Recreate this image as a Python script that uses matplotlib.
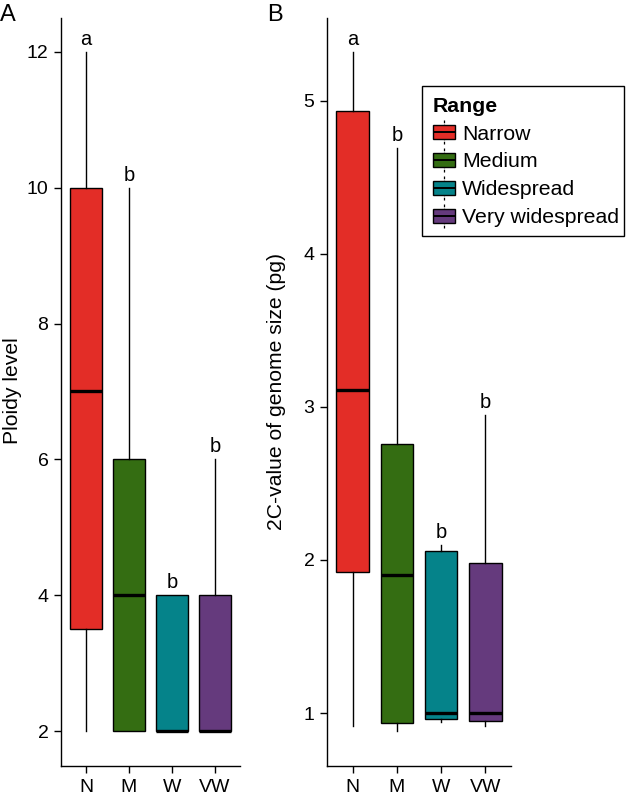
import matplotlib
matplotlib.use("Agg")
import matplotlib.pyplot as plt
from matplotlib.legend_handler import HandlerBase
from matplotlib.lines import Line2D
from matplotlib.patches import Rectangle, Patch

plt.rcParams['font.family'] = ['Liberation Sans', 'DejaVu Sans']

# ---------------- data ----------------
categories = ['N', 'M', 'W', 'VW']
range_labels = ['Narrow', 'Medium', 'Widespread', 'Very widespread']
colors = ['#E32D27', '#346D12', '#05838A', '#653A7D']

ploidy_whislo = [2, 2, 2, 2]
ploidy_q1 = [3.5, 2, 2, 2]
ploidy_med = [7, 4, 2, 2]
ploidy_q3 = [10, 6, 4, 4]
ploidy_whishi = [12, 10, 4, 6]
ploidy_letters = ['a', 'b', 'b', 'b']

genome_whislo = [0.915, 0.88, 0.94, 0.915]
genome_q1 = [1.92, 0.935, 0.96, 0.95]
genome_med = [3.11, 1.90, 1.00, 1.00]
genome_q3 = [4.935, 2.76, 2.06, 1.98]
genome_whishi = [5.32, 4.69, 2.10, 2.95]
genome_letters = ['a', 'b', 'b', 'b']

FS_TICK = 14
FS_LAB = 15.2
FS_LET = 14.5
FS_LEG = 15.3


def make_stats(lo, q1, med, q3, hi):
    return [dict(whislo=a, q1=b, med=c, q3=d, whishi=e, fliers=[])
            for a, b, c, d, e in zip(lo, q1, med, q3, hi)]


def draw_panel(ax, stats, letters, ylim, yticks):
    pos = list(range(1, len(categories) + 1))
    bp = ax.bxp(stats, positions=pos, widths=0.74, patch_artist=True,
                showcaps=False, showfliers=False,
                boxprops=dict(edgecolor='black', linewidth=1.0),
                whiskerprops=dict(color='black', linewidth=1.0),
                medianprops=dict(color='black', linewidth=2.4, solid_capstyle='butt'))
    for patch, c in zip(bp['boxes'], colors):
        patch.set_facecolor(c)
    for x, s, l in zip(pos, stats, letters):
        ax.annotate(l, (x, s['whishi']), xytext=(0, 5), textcoords='offset points',
                    ha='center', va='baseline', fontsize=FS_LET)
    ax.set_xlim(0.42, 4.58)
    ax.set_ylim(*ylim)
    ax.set_yticks(yticks)
    ax.set_yticklabels([str(t) for t in yticks])
    ax.set_xticks(pos)
    ax.set_xticklabels(categories)
    for side in ('top', 'right'):
        ax.spines[side].set_visible(False)
    for side in ('left', 'bottom'):
        ax.spines[side].set_linewidth(1.0)
    ax.tick_params(direction='out', length=5, width=1.0, labelsize=FS_TICK, pad=4)


class BoxHandler(HandlerBase):
    def create_artists(self, legend, orig_handle, xdescent, ydescent,
                       width, height, fontsize, trans):
        x0 = -xdescent
        y0 = -ydescent
        cx = x0 + width / 2
        ext = height * 0.36
        wh = Line2D([cx, cx], [y0 - ext, y0 + height + ext], color='black',
                    lw=0.9, ls=(0, (2.2, 1.2)))
        box = Rectangle((x0, y0), width, height,
                        facecolor=orig_handle.get_facecolor(),
                        edgecolor='black', lw=1.0)
        med = Line2D([x0, x0 + width], [y0 + height / 2] * 2, color='black',
                     lw=1.4, solid_capstyle='butt')
        for a in (wh, box, med):
            a.set_transform(trans)
        return [wh, box, med]


fig = plt.figure(figsize=(6.3, 7.92), dpi=100)
W, H = 630, 792
axA = fig.add_axes([61 / W, 1 - 766 / H, (240 - 61) / W, (766 - 18) / H])
axB = fig.add_axes([327 / W, 1 - 766 / H, (511 - 327) / W, (766 - 18) / H])

draw_panel(axA, make_stats(ploidy_whislo, ploidy_q1, ploidy_med, ploidy_q3, ploidy_whishi),
           ploidy_letters, (1.485, 12.5), [2, 4, 6, 8, 10, 12])
draw_panel(axB, make_stats(genome_whislo, genome_q1, genome_med, genome_q3, genome_whishi),
           genome_letters, (0.654, 5.54), [1, 2, 3, 4, 5])

fig.text(12 / W, 1 - 391 / H, 'Ploidy level', rotation=90, ha='center', va='center', fontsize=FS_LAB)
fig.text(277 / W, 1 - 392 / H, '2C-value of genome size (pg)', rotation=90,
         ha='center', va='center', fontsize=FS_LAB)
fig.text(0 / W, 1 - 21 / H, 'A', ha='left', va='baseline', fontsize=17)
fig.text(267 / W, 1 - 21 / H, 'B', ha='left', va='baseline', fontsize=17)

handles = [Patch(facecolor=c, edgecolor='black') for c in colors]
leg = fig.legend(handles, range_labels, title='Range', loc='upper left',
                 bbox_to_anchor=(422 / W, 1 - 86 / H), bbox_transform=fig.transFigure,
                 handler_map={Patch: BoxHandler()}, fontsize=FS_LEG,
                 title_fontproperties={'weight': 'bold', 'size': FS_LEG},
                 alignment='left', frameon=False,
                 handlelength=1.05, handleheight=0.66, handletextpad=0.33,
                 labelspacing=0.42, borderpad=0.5, borderaxespad=0)
# legend frame (R-style: tight on the right)
fig.patches.append(Rectangle((422 / W, 1 - 236 / H), (624 - 422) / W, (236 - 86) / H,
                             transform=fig.transFigure, fill=False,
                             edgecolor='black', linewidth=1.0, zorder=5))

fig.savefig('out.png', dpi=100)
